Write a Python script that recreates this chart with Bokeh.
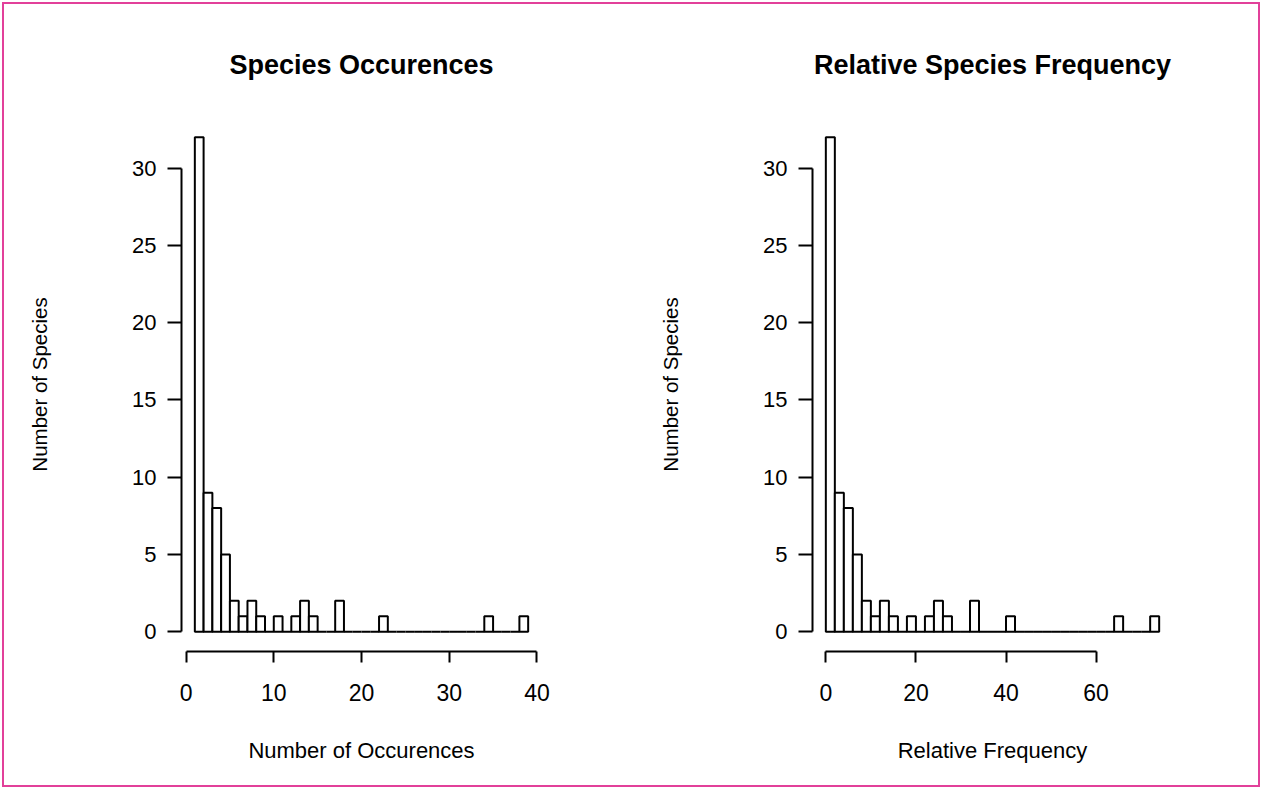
from bokeh.plotting import figure
from bokeh.layouts import row
from bokeh.models import FixedTicker, Range1d
from bokeh.embed import file_html
from bokeh.resources import INLINE

# ---- data ----
occ_edges = list(range(1, 40))  # bin edges 1..39, width 1
occ_counts = [32, 9, 8, 5, 2, 1, 2, 1, 0, 1, 0, 1, 2, 1, 0, 0, 2, 0, 0, 0, 0, 1,
              0, 0, 0, 0, 0, 0, 0, 0, 0, 0, 0, 1, 0, 0, 0, 1]
rel_edges = list(range(0, 76, 2))  # bin edges 0..74, width 2
rel_counts = [32, 9, 8, 5, 2, 1, 2, 1, 0, 1, 0, 1, 2, 1, 0, 0, 2, 0, 0, 0, 1,
              0, 0, 0, 0, 0, 0, 0, 0, 0, 0, 0, 1, 0, 0, 0, 1]
occ_xticks = [0, 10, 20, 30, 40]
rel_xticks = [0, 20, 40, 60]
y_ticks = [0, 5, 10, 15, 20, 25, 30]

FONT = "Liberation Sans"
PINK = "#e2409a"


def pad(lo, hi):
    d = (hi - lo) * 0.04
    return lo - d, hi + d


def hist_panel(title, xlabel, edges, counts, xticks):
    xr = pad(edges[0], edges[-1])
    yr = pad(0, max(counts))
    p = figure(width=631, height=789, output_backend="svg", toolbar_location=None,
               x_range=Range1d(*xr), y_range=Range1d(*yr),
               min_border_left=181, min_border_right=90,
               min_border_top=117, min_border_bottom=138,
               title=title)
    p.outline_line_color = None
    p.xgrid.visible = False
    p.ygrid.visible = False
    p.background_fill_color = "white"
    p.border_fill_color = None  # transparent, lets the page border show

    p.quad(left=edges[:-1], right=edges[1:], bottom=0, top=counts,
           fill_color="white", line_color="black", line_width=2)

    p.title.align = "center"
    p.title.text_font = FONT
    p.title.text_font_style = "bold"
    p.title.text_font_size = "27px"
    p.title.text_color = "black"
    p.title.standoff = 75

    xa = p.xaxis[0]
    xa.ticker = FixedTicker(ticks=xticks)
    xa.bounds = (xticks[0], xticks[-1])
    xa.axis_label = xlabel
    xa.axis_label_text_font = FONT
    xa.axis_label_text_font_style = "normal"
    xa.axis_label_text_font_size = "22px"
    xa.axis_label_text_color = "black"
    xa.axis_label_standoff = 34
    xa.major_label_text_font = FONT
    xa.major_label_text_font_size = "23px"
    xa.major_label_text_color = "black"
    xa.major_label_standoff = 21
    xa.major_tick_out = 11
    xa.major_tick_in = 0
    xa.minor_tick_out = 0
    xa.minor_tick_in = 0
    xa.axis_line_width = 2
    xa.major_tick_line_width = 2

    ya = p.yaxis[0]
    ya.ticker = FixedTicker(ticks=y_ticks)
    ya.bounds = (y_ticks[0], y_ticks[-1])
    ya.axis_label = "Number of Species"
    ya.axis_label_text_font = FONT
    ya.axis_label_text_font_style = "normal"
    ya.axis_label_text_font_size = "20.5px"
    ya.axis_label_text_color = "black"
    ya.axis_label_standoff = 78
    ya.major_label_text_font = FONT
    ya.major_label_text_font_size = "22px"
    ya.major_label_text_color = "black"
    ya.major_label_standoff = 11
    ya.major_label_orientation = "horizontal"
    ya.major_tick_out = 14
    ya.major_tick_in = 0
    ya.minor_tick_out = 0
    ya.minor_tick_in = 0
    ya.axis_line_width = 2
    ya.major_tick_line_width = 2
    return p


p1 = hist_panel("Species Occurences", "Number of Occurences",
                occ_edges, occ_counts, occ_xticks)
p2 = hist_panel("Relative Species Frequency", "Relative Frequency",
                rel_edges, rel_counts, rel_xticks)

layout = row(p1, p2, spacing=0,
             styles={"outline": f"2px solid {PINK}", "outline-offset": "-4px",
                     "background-color": "white"})

open("out.html", "w").write(file_html(layout, INLINE))
